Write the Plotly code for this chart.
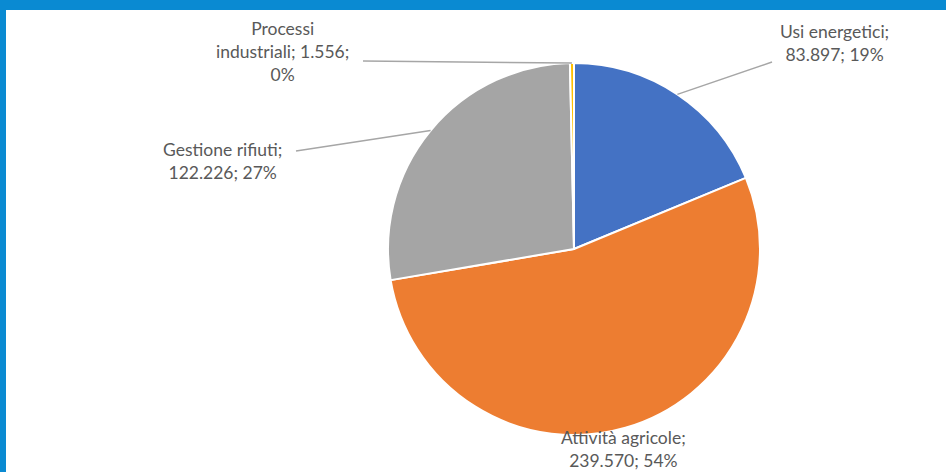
import math
import plotly.graph_objects as go

# Emissioni per settore (valori assoluti)
categories = ["Usi energetici", "Attività agricole", "Gestione rifiuti", "Processi industriali"]
values = [83897, 239570, 122226, 1556]
colors = ["#4472C4", "#ED7D31", "#A5A5A5", "#FFC000"]

W, H = 946, 472
CX, CY, R = 574, 249, 186  # pie centre and radius in pixels

def fmt_it(v):
    return f"{v:,}".replace(",", ".")

total = sum(values)
pcts = [round(100 * v / total) for v in values]

# label blocks: (anchor x px, anchor y px, elbow px or None)
label_layout = {
    "Usi energetici": (834, 43, (772, 62)),
    "Attività agricole": (623, 449, None),
    "Gestione rifiuti": (222, 161, (296, 151)),
    "Processi industriali": (282, 51, (363, 61)),
}
label_text = {
    "Usi energetici": "Usi energetici;<br>{v}; {p}%",
    "Attività agricole": "Attività agricole;<br>{v}; {p}%",
    "Gestione rifiuti": "Gestione rifiuti;<br>{v}; {p}%",
    "Processi industriali": "Processi<br>industriali; {v};<br>{p}%",
}

def px2paper(x, y):
    return x / W, 1 - y / H

fig = go.Figure(
    go.Pie(
        labels=categories,
        values=values,
        sort=False,
        direction="clockwise",
        rotation=0,
        marker=dict(colors=colors, line=dict(color="white", width=2)),
        textinfo="none",
        hoverinfo="label+value+percent",
        domain=dict(
            x=[(CX - R) / W, (CX + R) / W],
            y=[1 - (CY + R) / H, 1 - (CY - R) / H],
        ),
        showlegend=False,
    )
)

shapes = []
annotations = []
cum = 0
for cat, v, p in zip(categories, values, pcts):
    mid = (cum + v / 2) / total * 2 * math.pi
    cum += v
    tx, ty, elbow = label_layout[cat]
    annotations.append(dict(
        x=tx / W, y=1 - ty / H, xref="paper", yref="paper",
        text=label_text[cat].format(v=fmt_it(v), p=p),
        showarrow=False, xanchor="center", yanchor="middle", align="center",
        font=dict(family="Lato, Open Sans, sans-serif", size=17.5, color="#595959"),
    ))
    if elbow is not None:
        sx = CX + R * math.sin(mid)
        sy = CY - R * math.cos(mid)
        x0, y0 = px2paper(sx, sy)
        x1, y1 = px2paper(*elbow)
        shapes.append(dict(type="line", xref="paper", yref="paper",
                           x0=x0, y0=y0, x1=x1, y1=y1,
                           line=dict(color="#A6A6A6", width=1.5)))

# blue frame: top band and left bar
shapes.append(dict(type="rect", xref="paper", yref="paper", x0=0, x1=1,
                   y0=1 - 10 / H, y1=1, fillcolor="#0A8AD2", line=dict(width=0), layer="above"))
shapes.append(dict(type="rect", xref="paper", yref="paper", x0=0, x1=6 / W,
                   y0=0, y1=1, fillcolor="#0A8AD2", line=dict(width=0), layer="above"))

fig.update_layout(
    width=W, height=H,
    margin=dict(l=0, r=0, t=0, b=0),
    paper_bgcolor="white", plot_bgcolor="white",
    shapes=shapes, annotations=annotations,
)

fig.write_html("out.html")
